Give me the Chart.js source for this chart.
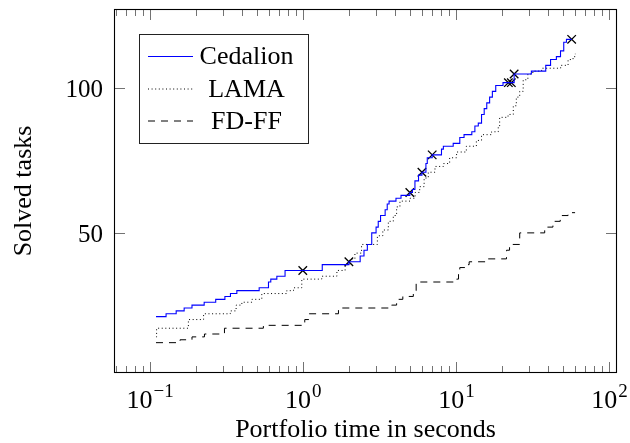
<!DOCTYPE html>
<html>
<head>
<meta charset="utf-8">
<script src="https://cdn.jsdelivr.net/npm/chart.js@4.4.0/dist/chart.umd.min.js"></script>
<style>
  html, body { margin: 0; padding: 0; background: #fff; }
  #wrap { width: 630px; height: 443px; }
</style>
</head>
<body>
<div id="wrap"><canvas id="chart"></canvas></div>
<script>
// values (x = portfolio time in s, y = solved tasks)
const cedalionX = [0.11, 0.128, 0.149, 0.168, 0.189, 0.227, 0.27, 0.31, 0.337, 0.371, 0.519, 0.597, 0.618, 0.677, 0.766,
  1.0, 1.34, 2.0, 2.37, 2.51, 2.64, 2.82, 3.01, 3.11, 3.22, 3.45, 3.56, 3.66, 4.06, 4.38, 5.0, 5.2, 5.4, 5.7, 6.0,
  6.37, 6.5, 7.0, 8.05, 8.28, 9.6, 10.6, 11.3, 12.7, 13.3, 14.0, 14.7, 15.3, 15.9, 16.6, 17.3, 18.2, 20.3, 22, 23, 24,
  31.1, 38.6, 41.5, 45.3, 48.2, 50.6, 52.7, 57];
const cedalionY = [21, 22, 23, 24, 25, 26, 27, 28, 29, 30, 31, 33, 34, 35, 37,
  37, 39, 40, 42, 44, 46, 50, 52, 54, 56, 58, 60, 61, 62, 63, 64, 65, 68, 70, 71,
  74, 76, 77, 79, 80, 81, 83, 84, 85, 87, 88, 91, 93, 95, 97, 99, 101, 102, 102, 102, 105,
  106, 108, 110, 111, 113, 116, 117, 117];

const lamaX = [0.11, 0.111, 0.179, 0.225, 0.336, 0.367, 0.40, 0.465, 0.54, 0.786, 0.87, 0.985, 1.33, 1.67, 1.89,
  2.03, 2.19, 2.42, 3.07, 3.33, 3.62, 3.9, 4.1, 4.31, 5.02, 5.41, 5.8, 6.2, 6.6, 7.3, 8.28, 9.1, 10.1, 11.7, 13.6,
  14.7, 17.1, 18.9, 19.3, 21.9, 23.7, 24.8, 26.1, 27.5, 29.5, 31.8, 36.3, 48.3, 54, 58.2, 60.2];
const lamaY = [14, 17, 20, 22, 23, 25, 26, 27, 29, 30, 31, 34, 35, 37, 39,
  41, 43, 46, 49, 51, 54, 56, 59, 61, 62, 64, 66, 69, 71, 73, 74, 76, 78, 80, 82,
  84, 85, 87, 90, 91, 94, 97, 99, 103, 105, 106, 107, 108, 110, 111, 112];

const fdffX = [0.11, 0.158, 0.189, 0.228, 0.308, 0.553, 0.985, 1.03, 1.1, 1.71, 3.8, 4.1, 4.5, 5.27, 5.5,
  10.1, 10.4, 10.6, 11.7, 12.2, 16.2, 21.4, 22.4, 26.1, 38, 43, 48, 54, 60];
const fdffY = [12, 13, 14, 15, 17, 18, 19, 20, 22, 24, 25, 27, 28, 30, 33,
  34, 36, 38, 39, 40, 41, 44, 46, 50, 52, 54, 56, 57, 57];

const markX = [1, 2, 5, 6, 7, 22, 23, 24, 57];
const markY = [37, 40, 64, 71, 77, 102, 102, 105, 117];

const xTicks = [0.1, 1, 10, 100];
const xTickExp = ['\u22121', '0', '1', '2'];
const yTicks = [50, 100];

const seriesNames = ['Cedalion', 'LAMA', 'FD-FF'];

const serif = '"Liberation Serif", "DejaVu Serif", serif';

function pts(xs, ys) {
    return xs.map((x, i) => ({ x: x, y: ys[i] }));
}

// pgfplots-style box, ticks, labels and legend
const pgfAxes = {
    id: 'pgfAxes',
    beforeDatasetsDraw(chart) {
        const { ctx, chartArea: a, scales: { x, y } } = chart;
        ctx.save();
        ctx.strokeStyle = 'rgba(0,0,0,0.55)';
        ctx.lineWidth = 1;
        ctx.beginPath();
        for (let d = -2; d <= 2; d++) {
            for (let m = 1; m <= 9; m++) {
                const v = m * Math.pow(10, d);
                if (v < x.min || v > x.max) continue;
                const px = Math.round(x.getPixelForValue(v)) + 0.5;
                const len = m === 1 ? 11 : 7;
                ctx.moveTo(px, a.bottom); ctx.lineTo(px, a.bottom - len);
                ctx.moveTo(px, a.top); ctx.lineTo(px, a.top + len);
            }
        }
        yTicks.forEach(v => {
            const py = Math.round(y.getPixelForValue(v)) + 0.5;
            ctx.moveTo(a.left, py); ctx.lineTo(a.left + 11, py);
            ctx.moveTo(a.right, py); ctx.lineTo(a.right - 11, py);
        });
        ctx.stroke();
        ctx.restore();
    },
    afterDraw(chart) {
        const { ctx, chartArea: a, scales: { x, y } } = chart;
        ctx.save();
        // frame
        ctx.strokeStyle = '#000';
        ctx.lineWidth = 1.1;
        ctx.strokeRect(a.left + 0.5, a.top + 0.5, a.right - a.left - 1, a.bottom - a.top - 1);

        ctx.fillStyle = '#000';
        // x tick labels 10^n
        xTicks.forEach((v, i) => {
            const px = x.getPixelForValue(v);
            ctx.font = '26px ' + serif;
            const wb = ctx.measureText('10').width;
            ctx.font = '19px ' + serif;
            const ws = ctx.measureText(xTickExp[i]).width;
            const left = px - (wb + ws) / 2;
            ctx.textAlign = 'left';
            ctx.textBaseline = 'alphabetic';
            ctx.font = '26px ' + serif;
            ctx.fillText('10', left, a.bottom + 35);
            ctx.font = '19px ' + serif;
            ctx.fillText(xTickExp[i], left + wb + 1, a.bottom + 24);
        });
        // y tick labels
        ctx.font = '25px ' + serif;
        ctx.textAlign = 'right';
        yTicks.forEach(v => {
            ctx.fillText(String(v), a.left - 11, y.getPixelForValue(v) + 9);
        });
        // axis titles
        ctx.font = '26px ' + serif;
        ctx.textAlign = 'center';
        ctx.fillText('Portfolio time in seconds', (a.left + a.right) / 2, 437);
        ctx.save();
        ctx.translate(31, (a.top + a.bottom) / 2);
        ctx.rotate(-Math.PI / 2);
        ctx.fillText('Solved tasks', 0, 0);
        ctx.restore();

        // legend
        const lx = 139.5, ly = 34.5, lw = 169, lh = 109;
        ctx.fillStyle = '#fff';
        ctx.fillRect(lx, ly, lw, lh);
        ctx.strokeStyle = '#222';
        ctx.lineWidth = 1;
        ctx.strokeRect(lx, ly, lw, lh);
        const rows = [56.5, 89, 121];
        chart.data.datasets.slice(0, 3).forEach((ds, i) => {
            ctx.beginPath();
            ctx.strokeStyle = ds.borderColor;
            ctx.lineWidth = ds.borderWidth;
            ctx.setLineDash(ds.borderDash || []);
            ctx.moveTo(148, rows[i]);
            ctx.lineTo(193, rows[i]);
            ctx.stroke();
            ctx.setLineDash([]);
            ctx.fillStyle = '#000';
            ctx.font = '26px ' + serif;
            ctx.textAlign = 'center';
            ctx.textBaseline = 'middle';
            ctx.fillText(ds.label, 246.5, rows[i] + 1);
        });
        ctx.restore();
    }
};

new Chart(document.getElementById('chart'), {
    type: 'line',
    data: {
        datasets: [
            {
                label: seriesNames[0],
                data: pts(cedalionX, cedalionY),
                borderColor: '#0000ff',
                borderWidth: 1.1,
                stepped: true,
                pointRadius: 0
            },
            {
                label: seriesNames[1],
                data: pts(lamaX, lamaY),
                borderColor: '#000',
                borderWidth: 1,
                borderDash: [1, 2.6],
                stepped: true,
                pointRadius: 0
            },
            {
                label: seriesNames[2],
                data: pts(fdffX, fdffY),
                borderColor: '#000',
                borderWidth: 1,
                borderDash: [7, 6],
                stepped: true,
                pointRadius: 0
            },
            {
                label: 'marks',
                data: pts(markX, markY),
                showLine: false,
                pointStyle: 'crossRot',
                pointRadius: 6,
                pointBorderColor: '#000',
                pointBorderWidth: 1.3,
                borderColor: '#000'
            }
        ]
    },
    options: {
        responsive: true,
        maintainAspectRatio: false,
        animation: false,
        layout: { padding: { left: 114, right: 13, top: 9, bottom: 70 } },
        plugins: { legend: { display: false }, tooltip: { enabled: false } },
        scales: {
            x: { type: 'logarithmic', min: 0.0585, max: 112.7, display: false },
            y: { type: 'linear', min: 1.5, max: 127.5, display: false }
        }
    },
    plugins: [pgfAxes]
});
</script>
</body>
</html>
